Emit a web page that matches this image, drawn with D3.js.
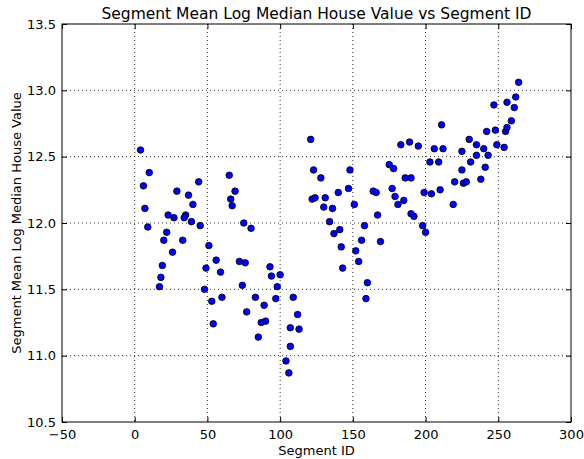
<html>
<head>
    <meta charset="utf-8">
    <title>Segment Mean Log Median House Value vs Segment ID</title>
    <style>
        body { margin: 0; background: white; }
        text { font-family: "DejaVu Sans", sans-serif; fill: black; }
        .grid line { stroke: black; stroke-width: 0.8; stroke-dasharray: 1, 3; }
        .dot { fill: #0000ff; stroke: black; stroke-width: 0.8; }
    </style>
    <script src="https://cdn.jsdelivr.net/npm/d3@7"></script>
</head>
<body>
<div id="chart"></div>
<script>
    // data
    var segmentIds = [4, 10, 6, 7, 9, 29, 37, 40, 44, 23, 27, 35, 34, 39, 45, 65, 69, 66, 67, 75,
        80, 22, 20, 33, 26, 19, 18, 17, 51, 56, 59, 49, 48, 53, 60, 54, 72, 76, 74, 83,
        77, 87, 85, 121, 123, 128, 148, 147, 140, 122, 124, 131, 130, 136, 151, 134, 141, 137, 158, 142,
        156, 152, 143, 169, 167, 154, 160, 159, 164, 166, 175, 178, 183, 189, 195, 186, 190, 177, 179, 181,
        185, 190, 192, 198, 200, 199, 93, 94, 100, 98, 97, 89, 109, 112, 90, 107, 113, 107, 104, 106,
        264, 262, 247, 256, 261, 259, 211, 242, 248, 255, 256, 230, 235, 240, 249, 254, 235, 243, 225, 206,
        212, 203, 209, 225, 231, 241, 226, 228, 220, 238, 219, 210, 204];
    var meanLogValues = [12.55, 12.38, 12.28, 12.11, 11.97, 12.24, 12.21, 12.14, 12.31, 12.06, 12.04, 12.06, 12.04, 12.01, 11.98, 12.36, 12.24, 12.18, 12.13, 12.00,
        11.96, 11.93, 11.87, 11.87, 11.78, 11.68, 11.59, 11.52, 11.83, 11.72, 11.63, 11.66, 11.50, 11.41, 11.44, 11.24, 11.71, 11.70, 11.53, 11.44,
        11.33, 11.25, 11.14, 12.63, 12.40, 12.34, 12.40, 12.26, 12.23, 12.18, 12.19, 12.19, 12.12, 12.11, 12.14, 12.01, 11.95, 11.92, 11.98, 11.82,
        11.87, 11.79, 11.66, 11.86, 12.06, 11.71, 11.55, 11.43, 12.24, 12.23, 12.44, 12.41, 12.59, 12.61, 12.58, 12.34, 12.34, 12.26, 12.20, 12.14,
        12.17, 12.07, 12.05, 11.98, 11.93, 12.23, 11.67, 11.60, 11.61, 11.52, 11.43, 11.38, 11.44, 11.31, 11.26, 11.21, 11.20, 11.07, 10.96, 10.87,
        13.06, 12.95, 12.89, 12.91, 12.87, 12.77, 12.74, 12.69, 12.70, 12.69, 12.72, 12.63, 12.59, 12.56, 12.59, 12.57, 12.51, 12.51, 12.54, 12.56,
        12.56, 12.46, 12.46, 12.40, 12.46, 12.42, 12.30, 12.31, 12.31, 12.33, 12.14, 12.25, 12.22];
    var xTicks = [-50, 0, 50, 100, 150, 200, 250, 300];
    var yTicks = [10.5, 11.0, 11.5, 12.0, 12.5, 13.0, 13.5];

    var width = 584, height = 459;
    var plotLeft = 62, plotRight = 571, plotTop = 24, plotBottom = 422;

    var svg = d3.select('#chart')
            .append('svg')
            .attr('width', width)
            .attr('height', height);

    var x = d3.scaleLinear().domain([-50, 300]).range([plotLeft, plotRight]);
    var y = d3.scaleLinear().domain([10.5, 13.5]).range([plotBottom, plotTop]);

    // dotted grid
    var grid = svg.append('g').attr('class', 'grid');
    grid.selectAll('.vx').data(xTicks.slice(1, -1)).enter().append('line')
            .attr('x1', d => x(d)).attr('x2', d => x(d))
            .attr('y1', plotTop).attr('y2', plotBottom);
    grid.selectAll('.hy').data(yTicks.slice(1, -1)).enter().append('line')
            .attr('x1', plotLeft).attr('x2', plotRight)
            .attr('y1', d => y(d)).attr('y2', d => y(d));

    // axes with inward ticks on all four sides
    var fmtX = d => d3.format('d')(d).replace('-', '\u2212');
    var fmtY = d3.format('.1f');

    svg.append('g')
            .attr('transform', 'translate(0,' + plotBottom + ')')
            .call(d3.axisBottom(x).tickValues(xTicks).tickFormat(fmtX).tickSizeInner(-5).tickSizeOuter(0).tickPadding(8));
    svg.append('g')
            .attr('transform', 'translate(0,' + plotTop + ')')
            .call(d3.axisTop(x).tickValues(xTicks).tickFormat('').tickSizeInner(-5).tickSizeOuter(0));
    svg.append('g')
            .attr('transform', 'translate(' + plotLeft + ',0)')
            .call(d3.axisLeft(y).tickValues(yTicks).tickFormat(fmtY).tickSizeInner(-5).tickSizeOuter(0).tickPadding(6));
    svg.append('g')
            .attr('transform', 'translate(' + plotRight + ',0)')
            .call(d3.axisRight(y).tickValues(yTicks).tickFormat('').tickSizeInner(-5).tickSizeOuter(0));

    svg.selectAll('.domain').remove();
    svg.selectAll('.tick text').style('font-size', '13px').style('font-family', '"DejaVu Sans", sans-serif');

    svg.append('rect')
            .attr('x', plotLeft).attr('y', plotTop)
            .attr('width', plotRight - plotLeft).attr('height', plotBottom - plotTop)
            .attr('fill', 'none').attr('stroke', 'black').attr('stroke-width', 1);

    // points
    var points = segmentIds.map((d, i) => ({ id: d, v: meanLogValues[i] }));
    svg.selectAll('.dot').data(points).enter().append('circle')
            .attr('class', 'dot')
            .attr('cx', d => x(d.id))
            .attr('cy', d => y(d.v))
            .attr('r', 3.3);

    // labels
    svg.append('text')
            .attr('x', (plotLeft + plotRight) / 2).attr('y', 19)
            .attr('text-anchor', 'middle')
            .style('font-size', '15.5px')
            .text('Segment Mean Log Median House Value vs Segment ID');
    svg.append('text')
            .attr('x', (plotLeft + plotRight) / 2).attr('y', 455)
            .attr('text-anchor', 'middle')
            .style('font-size', '13px')
            .text('Segment ID');
    svg.append('text')
            .attr('transform', 'translate(21,' + (plotTop + plotBottom) / 2 + ') rotate(-90)')
            .attr('text-anchor', 'middle')
            .style('font-size', '13px')
            .text('Segment Mean Log Median House Value');
</script>
</body>
</html>
